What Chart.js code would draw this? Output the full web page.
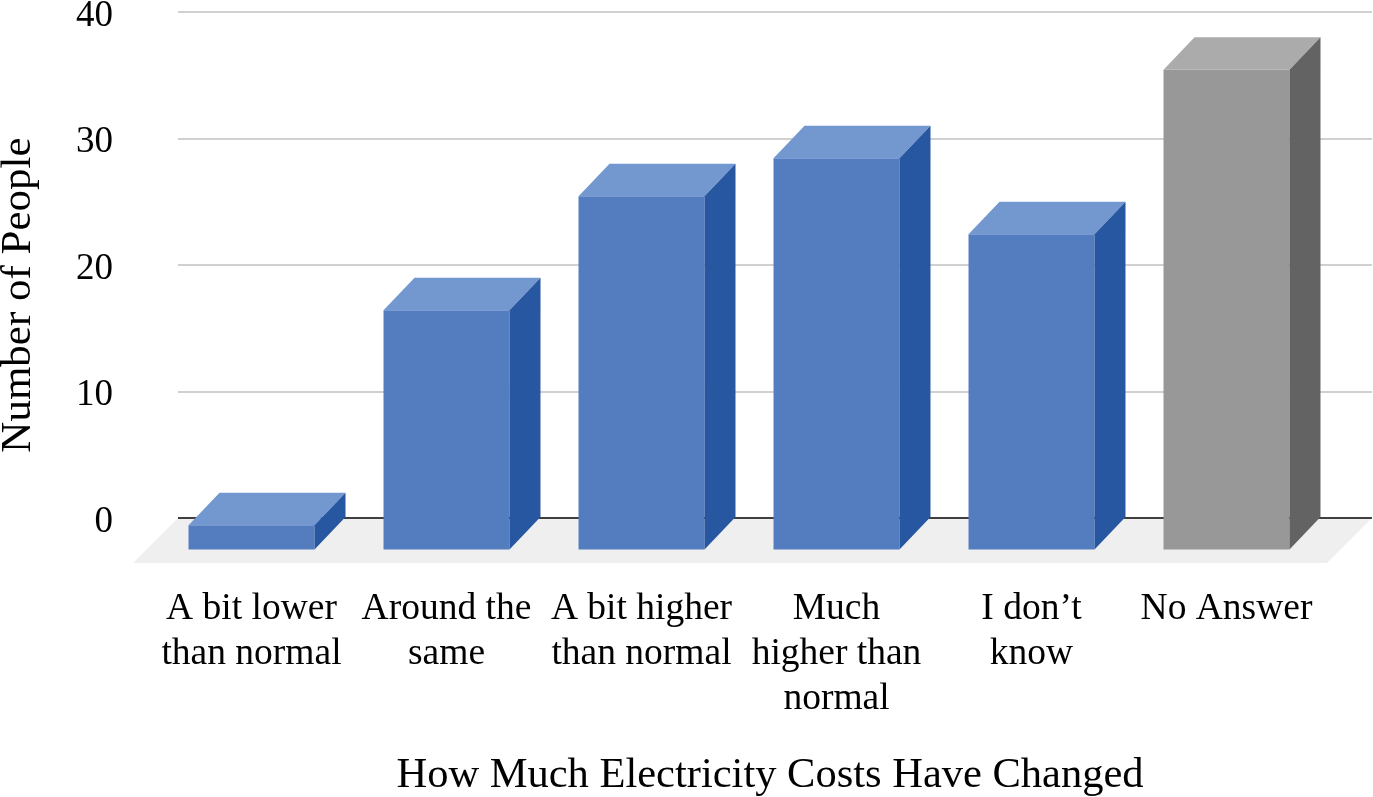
<!DOCTYPE html>
<html>
<head>
<meta charset="utf-8">
<title>How Much Electricity Costs Have Changed</title>
<script src="https://cdn.jsdelivr.net/npm/chart.js@4.4.1/dist/chart.umd.min.js"></script>
<style>
  html, body { margin: 0; padding: 0; background: #ffffff; }
  #wrap { width: 1373px; height: 797px; }
</style>
</head>
<body>
<div id="wrap"><canvas id="costChart" width="1373" height="797"></canvas></div>
<script>
// Daten
const categories = [
  ['A bit lower', 'than normal'],
  ['Around the', 'same'],
  ['A bit higher', 'than normal'],
  ['Much', 'higher than', 'normal'],
  ['I don\u2019t', 'know'],
  ['No Answer']
];
const peopleCount = [2, 19, 28, 31, 25, 38];
const yTicks = [0, 10, 20, 30, 40];
const yTitle = 'Number of People';
const xTitle = 'How Much Electricity Costs Have Changed';

// Farben der drei sichtbaren Flächen
const frontColors = ['#547dc0', '#547dc0', '#547dc0', '#547dc0', '#547dc0', '#989898'];
const topColors = ['#7398cf', '#7398cf', '#7398cf', '#7398cf', '#7398cf', '#ababab'];
const sideColors = ['#2757a0', '#2757a0', '#2757a0', '#2757a0', '#2757a0', '#636363'];

// 3D-Versatz (Vorderseite liegt links unten von der Rückwand)
const DX = 31;
const DY = 32.5;
const FLOOR_DEPTH = 45;
const SERIF = "'Liberation Serif', 'Times New Roman', serif";

const gridColor = ctx => (ctx.tick && ctx.tick.value === 0 ? '#404040' : '#d0d0d0');

const box3d = {
  id: 'box3d',
  beforeDraw(chart) {
    // Boden
    const a = chart.chartArea;
    const c = chart.ctx;
    const l = a.left - 7, r = a.right + 17, b = a.bottom;
    c.save();
    c.fillStyle = '#efefef';
    c.beginPath();
    c.moveTo(l, b);
    c.lineTo(r, b);
    c.lineTo(r - FLOOR_DEPTH, b + FLOOR_DEPTH);
    c.lineTo(l - FLOOR_DEPTH, b + FLOOR_DEPTH);
    c.closePath();
    c.fill();
    c.restore();
  },
  beforeDatasetsDraw(chart) {
    chart.ctx.save();
    chart.ctx.translate(-DX, DY);
  },
  afterDatasetsDraw(chart) {
    const c = chart.ctx;
    c.restore();
    const meta = chart.getDatasetMeta(0);
    meta.data.forEach((el, i) => {
      const x0 = el.x - el.width / 2;
      const x1 = el.x + el.width / 2;
      const y = el.y;
      const base = el.base;
      // Oberseite
      c.fillStyle = topColors[i];
      c.beginPath();
      c.moveTo(x0 - DX, y + DY);
      c.lineTo(x1 - DX, y + DY);
      c.lineTo(x1, y);
      c.lineTo(x0, y);
      c.closePath();
      c.fill();
      // rechte Seite
      c.fillStyle = sideColors[i];
      c.beginPath();
      c.moveTo(x1 - DX, y + DY);
      c.lineTo(x1, y);
      c.lineTo(x1, base);
      c.lineTo(x1 - DX, base + DY);
      c.closePath();
      c.fill();
    });
  },
  afterDraw(chart) {
    // Y-Achsentitel, etwas unterhalb der Mitte wie im Original
    const a = chart.chartArea;
    const c = chart.ctx;
    c.save();
    c.translate(19, (a.top + a.bottom) / 2 + 30);
    c.rotate(-Math.PI / 2);
    c.fillStyle = '#000000';
    c.font = '43px ' + SERIF;
    c.textAlign = 'center';
    c.textBaseline = 'middle';
    c.fillText(yTitle, 0, 0);
    c.restore();
  }
};

new Chart(document.getElementById('costChart'), {
  type: 'bar',
  data: {
    labels: categories,
    datasets: [{
      data: peopleCount,
      backgroundColor: frontColors,
      borderWidth: 0,
      categoryPercentage: 0.646,
      barPercentage: 1,
      clip: false
    }]
  },
  options: {
    responsive: false,
    animation: false,
    devicePixelRatio: 1,
    layout: { padding: { left: 0, right: 1, top: 12, bottom: 0 } },
    plugins: { legend: { display: false }, tooltip: { enabled: false } },
    scales: {
      x: {
        grid: { display: false },
        border: { display: false },
        ticks: {
          color: '#000000',
          font: { family: SERIF, size: 37.5, lineHeight: 1.2 },
          padding: 61,
          labelOffset: -DX,
          maxRotation: 0,
          autoSkip: false
        },
        title: {
          display: true,
          text: xTitle,
          color: '#000000',
          font: { family: SERIF, size: 42.5, lineHeight: 1 },
          padding: 0
        },
        afterFit: s => { s.height = 279; s.paddingLeft = 0; s.paddingRight = 0; }
      },
      y: {
        min: yTicks[0],
        max: yTicks[yTicks.length - 1],
        grid: { color: gridColor, lineWidth: 2, tickLength: 7 },
        border: { display: false },
        ticks: {
          stepSize: yTicks[1] - yTicks[0],
          color: '#000000',
          font: { family: SERIF, size: 37 },
          padding: 65,
          labelOffset: 4
        },
        afterFit: s => { s.width = 185; s.paddingTop = 0; s.paddingBottom = 0; }
      },
      y2: {
        position: 'right',
        min: yTicks[0],
        max: yTicks[yTicks.length - 1],
        grid: { color: gridColor, lineWidth: 2, tickLength: 17, drawOnChartArea: false },
        border: { display: false },
        ticks: { display: false, stepSize: yTicks[1] - yTicks[0] },
        afterFit: s => { s.width = 17; s.paddingTop = 0; s.paddingBottom = 0; }
      }
    }
  },
  plugins: [box3d]
});
</script>
</body>
</html>
